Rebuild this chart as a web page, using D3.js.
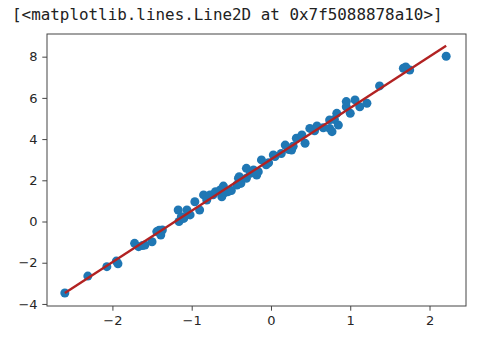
<!DOCTYPE html>
<html lang="en">
<head>
  <meta charset="UTF-8">
  <title>Scatter with fit</title>
  <style>
    body { margin: 0; background: #fff; }
    .tick text { font-family: "DejaVu Sans", sans-serif; font-size: 13px; fill: #262626; }
  </style>
</head>
<body>
  <svg id="svg" width="504" height="338"></svg>

  <script src="https://d3js.org/d3.v7.min.js"></script>
  <script>
    // scatter points
    const xs = [-2.60, -2.31, -2.07, -1.93, -1.95, -1.72, -1.67, -1.62, -1.59, -1.50,
      -1.44, -1.39, -1.37, -1.41, -1.17, -1.16, -1.13, -1.10, -1.06, -1.02,
      -0.96, -0.90, -0.85, -0.81, -0.77, -0.73, -0.70, -0.64, -0.62, -0.60,
      -0.58, -0.54, -0.50, -0.43, -0.41, -0.40, -0.38, -0.31, -0.31, -0.26,
      -0.22, -0.18, -0.16, -0.12, -0.06, -0.03, 0.05, 0.03, 0.13, 0.18,
      0.22, 0.26, 0.28, 0.32, 0.39, 0.43, 0.49, 0.55, 0.58, 0.66,
      0.74, 0.74, 0.77, 0.80, 0.83, 0.85, 0.95, 0.95, 1.00, 1.06,
      1.12, 1.21, 1.37, 1.67, 1.70, 1.75, 2.21]
    const ys = [-3.47, -2.65, -2.19, -2.05, -1.92, -1.06, -1.22, -1.17, -1.14, -0.98,
      -0.49, -0.66, -0.41, -0.42, 0.56, 0.00, 0.23, 0.15, 0.56, 0.32,
      0.96, 0.56, 1.29, 1.04, 1.29, 1.30, 1.45, 1.53, 1.20, 1.72,
      1.40, 1.45, 1.50, 1.77, 2.10, 2.17, 1.85, 2.10, 2.58, 2.34,
      2.50, 2.26, 2.42, 2.99, 2.75, 2.85, 3.15, 3.23, 3.30, 3.71,
      3.50, 3.47, 3.65, 4.04, 4.20, 3.80, 4.52, 4.40, 4.64, 4.55,
      4.52, 4.93, 4.36, 4.95, 5.25, 4.68, 5.57, 5.82, 5.25, 5.90,
      5.57, 5.74, 6.58, 7.44, 7.50, 7.35, 8.02]

    // fitted line end points
    const lineX = [-2.60, 2.21]
    const lineY = [-3.47, 8.53]

    const xTicks = [-2, -1, 0, 1, 2]
    const yTicks = [-4, -2, 0, 2, 4, 6, 8]

    const xDomain = [-2.825, 2.46]
    const yDomain = [-4.1, 9.1]

    const margin = { top: 34, right: 38, bottom: 32, left: 47 }
    const width = 504 - margin.left - margin.right
    const height = 338 - margin.top - margin.bottom

    const svg = d3.select('#svg')

    // output line above the figure
    svg.append('text')
      .attr('x', 12)
      .attr('y', 20)
      .attr('font-family', '"DejaVu Sans Mono", monospace')
      .attr('font-size', 15.9)
      .attr('fill', '#222')
      .text('[<matplotlib.lines.Line2D at 0x7f5088878a10>]')

    const xscale = d3.scaleLinear().domain(xDomain).range([margin.left, margin.left + width])
    const yscale = d3.scaleLinear().domain(yDomain).range([margin.top + height, margin.top])

    const points = xs.map((x, i) => ({ x: x, y: ys[i] }))

    svg.append('g')
      .selectAll('circle')
      .data(points)
      .enter()
      .append('circle')
      .attr('cx', d => xscale(d.x))
      .attr('cy', d => yscale(d.y))
      .attr('r', 4.5)
      .attr('fill', '#1f77b4')

    const line = d3.line().x(d => xscale(d[0])).y(d => yscale(d[1]))
    svg.append('path')
      .datum(lineX.map((x, i) => [x, lineY[i]]))
      .attr('d', line)
      .attr('fill', 'none')
      .attr('stroke', '#b22222')
      .attr('stroke-width', 2.4)

    // frame
    svg.append('rect')
      .attr('x', margin.left)
      .attr('y', margin.top)
      .attr('width', width)
      .attr('height', height)
      .attr('fill', 'none')
      .attr('stroke', '#444')
      .attr('stroke-width', 1)

    const fmt = d => d3.format('d')(d).replace('-', '\u2212')

    const bottomAxis = d3.axisBottom(xscale).tickValues(xTicks).tickFormat(fmt)
      .tickSize(4.7).tickPadding(4.7)
    const gx = svg.append('g')
      .attr('transform', `translate(0, ${margin.top + height})`)
      .call(bottomAxis)

    const leftAxis = d3.axisLeft(yscale).tickValues(yTicks).tickFormat(fmt)
      .tickSize(4.7).tickPadding(4.7)
    const gy = svg.append('g')
      .attr('transform', `translate(${margin.left}, 0)`)
      .call(leftAxis)

    gx.select('.domain').remove()
    gy.select('.domain').remove()
    svg.selectAll('.tick line').attr('stroke', '#444')
  </script>
</body>
</html>
